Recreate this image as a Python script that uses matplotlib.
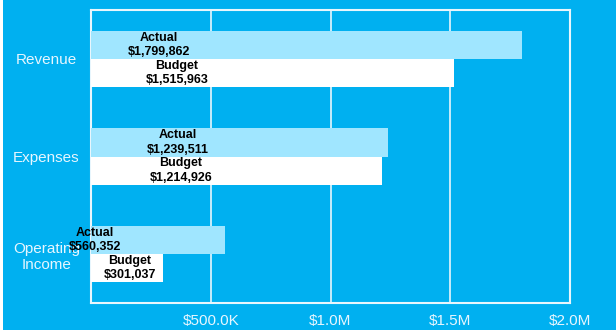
import matplotlib
matplotlib.use("Agg")
import matplotlib.pyplot as plt
from matplotlib.patches import Rectangle
from matplotlib.ticker import FuncFormatter

plt.rcParams["font.family"] = ["Liberation Sans", "DejaVu Sans"]

# Data
categories = ["Revenue", "Expenses", "Operating\nIncome"]
actual = [1799862, 1239511, 560352]
budget = [1515963, 1214926, 301037]
x_ticks = [500000, 1000000, 1500000, 2000000]

# where each value label sits along the bar (data units)
actual_label_x = [284000, 363000, 17000]
budget_label_x = [359000, 376000, 163000]

BG = "#00B0F0"
ACTUAL_COLOR = "#A0E6FF"
BUDGET_COLOR = "#FFFFFF"
LINE = "#E8F6FD"
TEXT_LIGHT = "#E6F6FF"


def money_tick(v, _pos):
    if v >= 1e6:
        return f"${v / 1e6:.1f}M"
    return f"${v / 1e3:.1f}K"


fig = plt.figure(figsize=(6.16, 3.32), dpi=100)
fig.patch.set_facecolor("white")
fig.patches.append(Rectangle((3 / 616, 2 / 332), 1, 1, transform=fig.transFigure,
                             facecolor=BG, edgecolor="none", zorder=-10))

ax = fig.add_axes([91 / 616, 1 - 303 / 332, 479 / 616, 293 / 332])
ax.set_facecolor(BG)

h = 0.2867
ypos = list(range(len(categories)))
ax.barh([y - h / 2 for y in ypos], actual, height=h, color=ACTUAL_COLOR, zorder=3)
ax.barh([y + h / 2 for y in ypos], budget, height=h, color=BUDGET_COLOR, zorder=3)

for i, y in enumerate(ypos):
    ax.text(actual_label_x[i], y - h / 2, f"Actual\n${actual[i]:,}", ha="center",
            va="center", fontsize=9, fontweight="bold", color="black",
            linespacing=1.25, zorder=5, clip_on=False)
    ax.text(budget_label_x[i], y + h / 2, f"Budget\n${budget[i]:,}", ha="center",
            va="center", fontsize=9, fontweight="bold", color="black",
            linespacing=1.25, zorder=5, clip_on=False)

ax.set_xlim(0, 2000000)
ax.set_ylim(len(categories) - 0.5, -0.5)
ax.set_xticks(x_ticks)
ax.xaxis.set_major_formatter(FuncFormatter(money_tick))
ax.set_yticks(ypos)
ax.set_yticklabels(categories, ha="center", linespacing=1.2)

ax.tick_params(axis="x", length=0, pad=8, labelsize=11, labelcolor=TEXT_LIGHT)
ax.tick_params(axis="y", length=0, pad=32, labelsize=11, labelcolor=TEXT_LIGHT)

ax.grid(axis="x", color=LINE, linewidth=1.2, zorder=1)
ax.grid(axis="y", visible=False)
for sp in ax.spines.values():
    sp.set_color(LINE)
    sp.set_linewidth(1.5)

fig.savefig("out.png", dpi=100, facecolor=fig.get_facecolor())
